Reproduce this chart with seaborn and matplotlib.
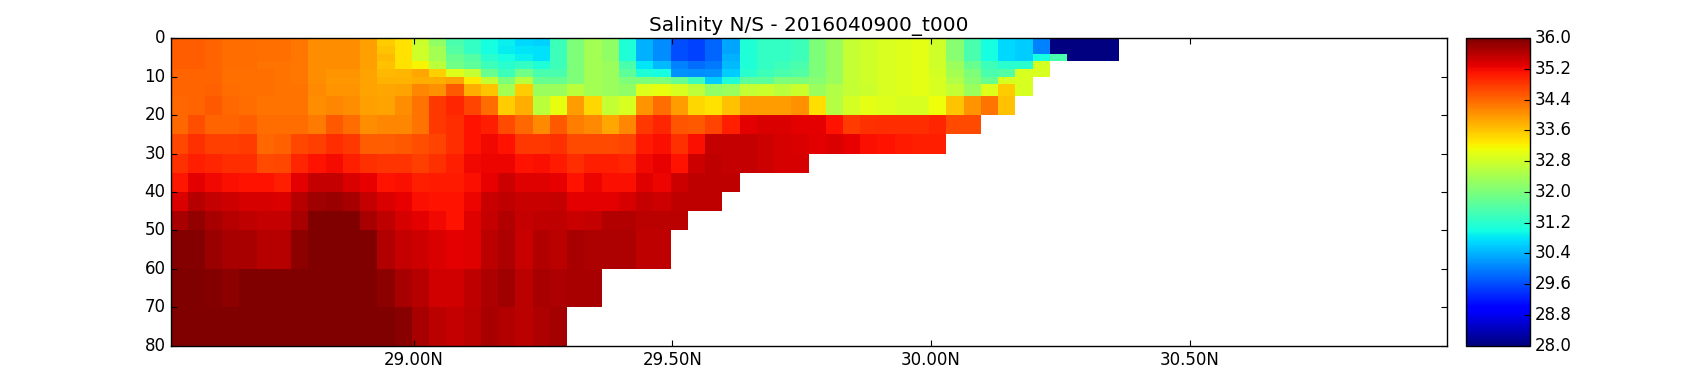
#!/usr/bin/env python3

import numpy as np
import matplotlib

matplotlib.use("Agg")
import matplotlib.pyplot as plt
import matplotlib.transforms as mtransforms
import seaborn as sns

title = "Salinity N/S - 2016040900_t000"

# layer thickness (m) for each row below, they add up to 80 m
layer_thickness = [2, 2, 2, 2, 2, 2, 3, 5, 5, 5, 5, 5, 5, 5, 10, 10, 10]

lat_start = 28.53
lat_step = 1 / 30
n_lat = 74

lat_ticks = [29.0, 29.5, 30.0, 30.5]
depth_ticks = [0, 10, 20, 30, 40, 50, 60, 70, 80]
cbar_ticks = [28.0, 28.8, 29.6, 30.4, 31.2, 32.0, 32.8, 33.6, 34.4, 35.2, 36.0]

# salinity, one list per layer, south to north
s_00 = [34.48, 34.48, 34.43, 34.35, 34.35, 34.33, 34.33, 34.28, 34.08, 34.08, 34.08, 33.92, 33.55, 33.36,
        32.75, 32.2, 31.5, 31.3, 31.0, 30.9, 30.7, 30.65, 31.4, 32.0, 32.4, 32.2, 31.1, 30.4, 30.1, 29.6,
        29.5, 29.8, 30.3, 31.1, 31.3, 31.3, 31.4, 32.0, 32.3, 32.7, 32.8, 32.9, 32.95, 33.0, 32.8, 32.1,
        31.5, 31.0, 30.7, 30.6, 30.0, 27.9, 27.9, 27.9, 27.9]
s_02 = [34.48, 34.48, 34.43, 34.35, 34.35, 34.33, 34.33, 34.28, 34.08, 34.08, 34.08, 33.92, 33.6, 33.36,
        32.8, 32.4, 31.6, 31.3, 31.0, 30.85, 30.8, 30.75, 31.4, 32.0, 32.4, 32.2, 31.1, 30.4, 30.1, 29.6,
        29.5, 29.8, 30.3, 31.1, 31.3, 31.3, 31.4, 32.0, 32.3, 32.7, 32.8, 32.9, 32.95, 33.0, 32.8, 32.1,
        31.5, 31.0, 30.7, 30.6, 30.0, 27.9, 27.9, 27.9, 27.9]
s_04 = [34.48, 34.48, 34.43, 34.35, 34.35, 34.33, 34.33, 34.28, 34.08, 34.08, 34.08, 33.92, 33.7, 33.36,
        32.8, 32.4, 31.8, 31.6, 31.2, 31.0, 30.9, 30.75, 31.4, 32.0, 32.4, 32.2, 31.1, 30.4, 30.1, 29.6,
        29.5, 29.8, 30.4, 31.1, 31.3, 31.3, 31.4, 32.0, 32.3, 32.7, 32.8, 32.9, 32.95, 33.0, 32.8, 32.1,
        31.5, 31.0, 30.7, 30.6, 31.0, 31.5, 27.9, 27.9, 27.9]
s_06 = [34.48, 34.48, 34.43, 34.35, 34.35, 34.3, 34.3, 34.28, 34.08, 34.08, 34.08, 33.92, 33.65, 33.36,
        33.2, 32.6, 31.9, 31.7, 31.4, 31.2, 31.3, 31.1, 31.4, 32.0, 32.4, 32.3, 31.5, 30.8, 30.45, 30.0,
        29.85, 29.95, 30.45, 31.1, 31.3, 31.4, 31.5, 32.0, 32.3, 32.7, 32.8, 32.9, 32.95, 33.0, 32.8, 32.3,
        31.8, 31.4, 31.2, 31.2, 32.85]
s_08 = [34.43, 34.43, 34.43, 34.33, 34.33, 34.33, 34.3, 34.28, 34.08, 34.03, 34.03, 33.88, 33.7, 33.72,
        33.85, 33.5, 32.95, 32.7, 31.8, 31.4, 31.9, 31.5, 31.5, 32.0, 32.4, 32.3, 31.7, 31.1, 31.0, 30.15,
        30.1, 30.15, 30.6, 31.2, 31.4, 31.5, 31.6, 32.0, 32.3, 32.7, 32.8, 32.9, 32.95, 33.0, 32.85, 32.4,
        32.0, 31.5, 31.6, 32.9, 32.9]
s_10 = [34.43, 34.43, 34.43, 34.33, 34.33, 34.33, 34.3, 34.28, 34.08, 33.98, 33.98, 33.88, 33.78, 33.78,
        33.8, 33.8, 33.9, 33.3, 32.7, 32.0, 32.6, 31.8, 31.8, 32.0, 32.4, 32.3, 32.0, 32.0, 32.0, 31.8,
        31.4, 30.6, 31.1, 31.7, 31.7, 32.0, 32.0, 32.1, 32.3, 32.7, 32.8, 32.9, 32.95, 33.0, 32.9, 32.5,
        32.1, 31.8, 32.9, 32.9]
s_12 = [34.43, 34.43, 34.46, 34.35, 34.33, 34.33, 34.3, 34.3, 34.1, 34.03, 34.03, 33.9, 33.85, 33.9,
        34.15, 34.05, 34.5, 33.8, 33.6, 32.4, 33.55, 32.3, 32.3, 32.6, 32.4, 32.3, 32.2, 32.95, 33.05, 32.9,
        32.65, 32.2, 32.3, 32.7, 32.75, 32.6, 32.75, 32.3, 32.5, 32.7, 32.75, 32.9, 32.95, 33.0, 32.9, 32.7,
        32.3, 32.95, 33.55, 32.9]
s_15 = [34.38, 34.43, 34.5, 34.38, 34.35, 34.3, 34.3, 34.3, 34.09, 34.13, 34.09, 33.92, 33.88, 34.09,
        34.3, 34.8, 34.95, 34.7, 34.35, 33.55, 33.8, 32.6, 33.05, 33.95, 33.45, 32.7, 32.9, 34.0, 34.35, 33.95,
        33.45, 33.35, 33.65, 33.95, 33.95, 33.95, 34.05, 33.4, 32.55, 32.85, 33.0, 32.95, 32.9, 32.9, 33.1, 33.6,
        34.0, 34.3, 33.65]
s_20 = [34.38, 34.62, 34.43, 34.43, 34.48, 34.35, 34.35, 34.35, 34.22, 34.5, 34.35, 34.08, 34.13, 34.13,
        34.3, 34.8, 34.9, 35.1, 35.0, 34.65, 34.4, 34.1, 34.5, 34.2, 34.1, 33.85, 34.15, 34.8, 34.95, 34.55,
        34.5, 34.7, 35.0, 35.3, 35.35, 35.35, 35.3, 35.3, 35.1, 34.75, 34.85, 34.9, 34.9, 34.9, 34.95, 34.65,
        34.65]
s_25 = [34.68, 34.85, 34.72, 34.72, 34.76, 34.4, 34.45, 34.68, 34.72, 34.88, 34.8, 34.48, 34.48, 34.52,
        34.6, 34.7, 34.9, 35.12, 35.2, 35.1, 34.8, 34.8, 34.85, 34.65, 34.65, 34.65, 34.7, 35.05, 35.15, 34.85,
        35.15, 35.5, 35.5, 35.5, 35.45, 35.4, 35.35, 35.3, 35.35, 35.25, 35.15, 35.1, 35.05, 35.0, 35.0]
s_30 = [34.86, 35.03, 34.95, 34.9, 34.9, 34.64, 34.68, 34.95, 35.12, 35.16, 35.03, 34.86, 34.82, 34.82,
        34.72, 34.85, 35.0, 35.2, 35.24, 35.24, 35.1, 35.15, 35.05, 34.9, 35.0, 35.0, 34.95, 35.2, 35.25, 35.1,
        35.45, 35.55, 35.5, 35.5, 35.45, 35.4, 35.4]
s_35 = [35.07, 35.3, 35.2, 35.15, 35.12, 35.12, 35.03, 35.3, 35.53, 35.53, 35.37, 35.25, 35.12, 35.15,
        35.03, 35.05, 35.05, 35.15, 35.27, 35.44, 35.33, 35.33, 35.27, 35.12, 35.22, 35.14, 35.14, 35.33, 35.22, 35.44,
        35.54, 35.54, 35.54]
s_40 = [35.35, 35.6, 35.5, 35.45, 35.4, 35.4, 35.35, 35.6, 35.75, 35.8, 35.7, 35.5, 35.35, 35.25,
        35.15, 35.1, 35.1, 35.22, 35.47, 35.54, 35.47, 35.47, 35.5, 35.3, 35.3, 35.3, 35.4, 35.5, 35.44, 35.54,
        35.54, 35.54]
s_45 = [35.7, 35.85, 35.7, 35.6, 35.55, 35.5, 35.5, 35.7, 36.0, 36.0, 36.0, 35.7, 35.55, 35.4,
        35.3, 35.2, 35.1, 35.33, 35.5, 35.63, 35.5, 35.54, 35.54, 35.47, 35.5, 35.63, 35.63, 35.57, 35.57, 35.57]
s_50 = [35.95, 35.95, 35.8, 35.7, 35.7, 35.6, 35.6, 35.9, 36.0, 36.0, 36.0, 36.0, 35.65, 35.5,
        35.45, 35.35, 35.3, 35.33, 35.57, 35.67, 35.47, 35.63, 35.57, 35.7, 35.67, 35.67, 35.67, 35.54, 35.54]
s_60 = [36.0, 36.0, 35.95, 35.9, 36.0, 36.0, 36.0, 36.0, 36.0, 36.0, 36.0, 36.0, 35.9, 35.7,
        35.6, 35.43, 35.43, 35.55, 35.67, 35.75, 35.57, 35.7, 35.67, 35.7, 35.7]
s_70 = [36.0, 36.0, 36.0, 36.0, 36.0, 36.0, 36.0, 36.0, 36.0, 36.0, 36.0, 36.0, 36.0, 35.92,
        35.7, 35.57, 35.5, 35.57, 35.7, 35.63, 35.57, 35.67, 35.72]

layers = [s_00, s_02, s_04, s_06, s_08, s_10, s_12, s_15, s_20,
          s_25, s_30, s_35, s_40, s_45, s_50, s_60, s_70]

# nan where the section runs into the bottom, heatmap masks those cells
section = np.full((len(layers), n_lat), np.nan)
for i, layer in enumerate(layers):
    section[i, : len(layer)] = layer
# heatmap cells are all the same size, so repeat every layer once per metre
section = np.repeat(section, layer_thickness, axis=0)

plt.rcParams["font.size"] = 12
fig = plt.figure(figsize=(17, 3.84), dpi=100)
ax = fig.add_axes([170.5 / 1700, 1 - 345.7 / 384, 1276 / 1700, 307.5 / 384])
cax = fig.add_axes([1466 / 1700, 1 - 345.7 / 384, 64 / 1700, 307.5 / 384])

sns.heatmap(
    section,
    ax=ax,
    cbar_ax=cax,
    cmap="jet",
    vmin=28,
    vmax=36,
    xticklabels=False,
    yticklabels=False,
    cbar_kws={"ticks": cbar_ticks, "format": "%.1f"},
)

ax.set_xticks([(lat - lat_start) / lat_step for lat in lat_ticks])
ax.set_xticklabels([f"{lat:.2f}N" for lat in lat_ticks])
ax.set_yticks(depth_ticks)
ax.set_yticklabels(depth_ticks)
ax.tick_params(top=True, right=True, direction="in", length=4, width=0.8, labelsize=12, rotation=0)
ax.set_title(title, fontsize=14.4, pad=5)
for spine in ax.spines.values():
    spine.set_visible(True)
    spine.set_linewidth(1)
    spine.set_color("black")

cbar = ax.collections[0].colorbar
cbar.outline.set_visible(True)
cbar.outline.set_linewidth(1)
cbar.outline.set_edgecolor("black")
cax.tick_params(direction="in", length=4, width=0.8, labelsize=12)

# the vertical tick labels sit a little above their ticks
nudge = mtransforms.ScaledTranslation(0, 2 / 100, fig.dpi_scale_trans)
for label in ax.get_yticklabels() + cax.get_yticklabels():
    label.set_transform(label.get_transform() + nudge)

fig.savefig("out.png", dpi=100)
